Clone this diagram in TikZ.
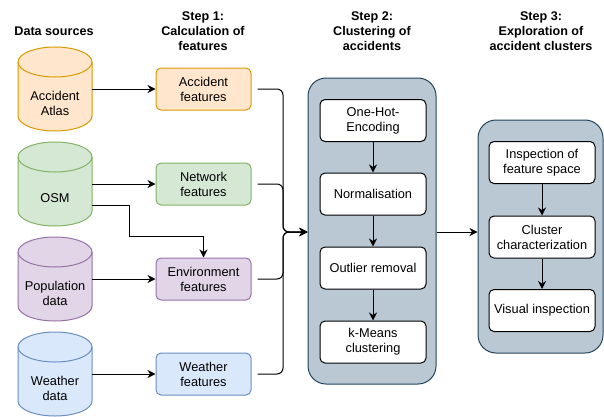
\documentclass[tikz,border=0pt]{standalone}
\usepackage{fontspec}
\setmainfont{Liberation Sans}
\usetikzlibrary{arrows.meta,calc}
\definecolor{orF}{HTML}{FFE6CC}\definecolor{orS}{HTML}{D79B00}
\definecolor{grF}{HTML}{D5E8D4}\definecolor{grS}{HTML}{82B366}
\definecolor{puF}{HTML}{E1D5E7}\definecolor{puS}{HTML}{9673A6}
\definecolor{blF}{HTML}{DAE8FC}\definecolor{blS}{HTML}{6C8EBF}
\definecolor{coF}{HTML}{BAC8D3}\definecolor{coS}{HTML}{23445D}
\newcommand\mycyl[3]{%
  \path[fill=#2,draw=#3,line width=1pt] ($(#1.north west)+(0,-15)$) -- ($(#1.south west)+(0,15)$)
    arc[start angle=180,end angle=360,x radius=37pt,y radius=15pt]
    -- ($(#1.north east)+(0,-15)$)
    arc[start angle=0,end angle=180,x radius=37pt,y radius=15pt] -- cycle;
  \draw[#3,line width=1pt] ($(#1.north west)+(0,-15)$) arc[start angle=180,end angle=360,x radius=37pt,y radius=15pt];}
\tikzset{
  txt/.style={font=\fontsize{12.8}{15}\selectfont, align=center, inner sep=0pt},
  hdr/.style={txt, font=\fontsize{12.6}{15}\selectfont\bfseries},
  cylnode/.style={minimum width=74pt, minimum height=84pt, inner sep=0pt, outer sep=0pt},
  featbox/.style={txt, rounded corners=5pt, minimum width=95pt, minimum height=42pt, line width=1pt},
  procbox/.style={txt, fill=white, draw=black, rounded corners=5pt, minimum width=106pt, minimum height=42pt, line width=1pt},
  contbox/.style={fill=coF, draw=coS, rounded corners=18pt, line width=1pt, inner sep=0pt},
  arr/.style={line width=1pt, -{Stealth[length=8pt,width=8pt,inset=2.5pt]}},
}
\begin{document}
\begin{tikzpicture}[x=1pt,y=1pt]
\useasboundingbox (0,0) rectangle (604,416);
% headers
\node[hdr] (h0) at (54,385) {Data sources};
\node[hdr] (h1) at (203,385) {Step 1:\\Calculation of\\features};
\node[hdr] (h2) at (372,385) {Step 2:\\Clustering of\\accidents};
\node[hdr] (h3) at (541,385) {Step 3:\\Exploration of\\accident clusters};
% cylinders
\node[cylnode] (atlas) at (55,327) {};
\node[cylnode] (osm) at (55,232) {};
\node[cylnode] (pop) at (55,137) {};
\node[cylnode] (wea) at (55,42) {};
\mycyl{atlas}{orF}{orS}
\mycyl{osm}{grF}{grS}
\mycyl{pop}{puF}{puS}
\mycyl{wea}{blF}{blS}
\node[txt] (atlast) at ($(atlas)+(0,-14)$) {Accident\\Atlas};
\node[txt] (osmt) at ($(osm)+(0,-14)$) {OSM};
\node[txt] (popt) at ($(pop)+(0,-14)$) {Population\\data};
\node[txt] (weat) at ($(wea)+(0,-14)$) {Weather\\data};
% feature boxes
\node[featbox, fill=orF, draw=orS] (af) at (203.5,327) {Accident\\features};
\node[featbox, fill=grF, draw=grS] (nf) at (203.5,232) {Network\\features};
\node[featbox, fill=puF, draw=puS] (ef) at (203.5,137) {Environment\\features};
\node[featbox, fill=blF, draw=blS] (wf) at (203.5,42) {Weather\\features};
% containers
\node[contbox, minimum width=128pt, minimum height=306pt] (c2) at (372,185) {};
\node[contbox, minimum width=125pt, minimum height=233pt] (c3) at (540.5,179.5) {};
% step 2 boxes
\node[procbox] (ohe) at (373,295.5) {One-Hot-\\Encoding};
\node[procbox] (norm) at (373,222) {Normalisation};
\node[procbox] (out) at (373,148) {Outlier removal};
\node[procbox] (km) at (373,74) {k-Means\\clustering};
% step 3 boxes
\node[procbox] (insp) at (542,253.5) {Inspection of\\feature space};
\node[procbox] (clc) at (542,179) {Cluster\\characterization};
\node[procbox] (vis) at (542,105.5) {Visual inspection};
% connectors
\draw[arr] (atlas.east) -- (af.west);
\draw[arr] (osm.east) -- (nf.west);
\draw[arr] (pop.east) -- (ef.west);
\draw[arr] (wea.east) -- (wf.west);
\draw[arr] ($(osm.east)+(0,-21)$) -| ++(37,-31) -| (ef.north);
\coordinate (m) at (283,184);
\foreach \b in {af,nf,ef,wf}{
  \draw[arr, rounded corners=6pt, shorten <=6pt] (\b.east) -| (m) -- (c2.west |- m);
}
\draw[arr] (c2.east |- m) -- (c3.west |- m);
\draw[arr] (ohe) -- (norm);
\draw[arr] (norm) -- (out);
\draw[arr] (out) -- (km);
\draw[arr] (insp) -- (clc);
\draw[arr] (clc) -- (vis);
\end{tikzpicture}
\end{document}
